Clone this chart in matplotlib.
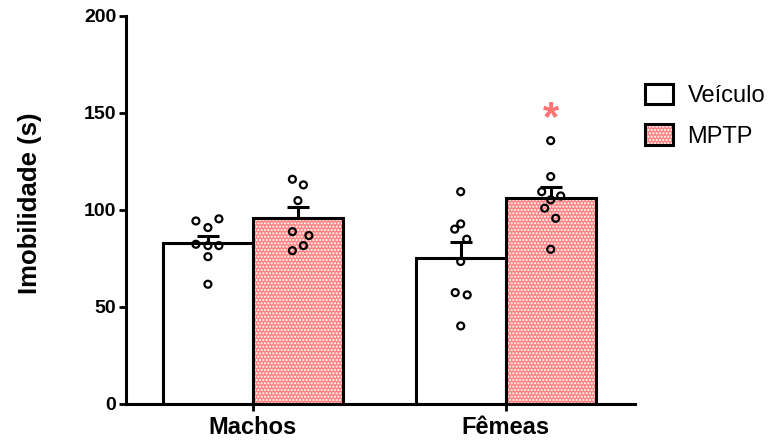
import matplotlib
matplotlib.use('Agg')
import matplotlib.pyplot as plt
import numpy as np
from matplotlib.patches import Patch
from matplotlib.legend_handler import HandlerTuple

plt.rcParams['font.family'] = ['Liberation Sans', 'DejaVu Sans']
plt.rcParams['hatch.linewidth'] = 1.0

# ---- data ----
groups = ['Machos', 'Fêmeas']
treatments = ['Veículo', 'MPTP']
veh_mean = [83.1, 75.4]
veh_sem = [3.7, 7.9]
mptp_mean = [95.7, 106.3]
mptp_sem = [5.7, 5.7]
veh_machos_pts = [94.3, 95.4, 90.9, 82.3, 81.6, 81.6, 75.9, 61.7]
mptp_machos_pts = [115.8, 112.9, 104.8, 88.8, 86.8, 81.6, 79.0]
veh_femeas_pts = [109.4, 90.1, 92.8, 84.9, 73.4, 57.4, 56.2, 40.2]
mptp_femeas_pts = [135.7, 117.2, 109.4, 107.2, 105.2, 100.9, 95.7, 79.7]
yticks = [0, 50, 100, 150, 200]

# horizontal scatter offsets of the dots (pixels, layout only)
veh_machos_dx = [-12, 11, 0, -12, 0, 11, 0, 0]
mptp_machos_dx = [-5.5, 5.5, 0, -5.5, 11, 5.5, -5.5]
veh_femeas_dx = [0, -6, 0, 6, 0, -5.5, 6.5, 0]
mptp_femeas_dx = [0, 0, -9, 10, 0, -6, 5, 0]

# ---- figure ----
fig = plt.figure(figsize=(7.73, 4.41), dpi=100)
ax = fig.add_axes([0.163, 0.084, 0.658, 0.88])

x = np.arange(len(groups))
w = 0.356
pink = '#ff8484'
lw = 2.2
px2data = 1 / 253.0
hatch = '.....'

ax.bar(x - w / 2, veh_mean, w, color='white', edgecolor='black', linewidth=lw, zorder=2)
ax.bar(x + w / 2, mptp_mean, w, color=pink, edgecolor='white', linewidth=0,
       hatch=hatch, zorder=2)
ax.bar(x + w / 2, mptp_mean, w, fill=False, edgecolor='black', linewidth=lw, zorder=2.1)

zeros = np.zeros(len(groups))
ax.errorbar(x - w / 2, veh_mean, yerr=[zeros, veh_sem], fmt='none', ecolor='black',
            elinewidth=lw, capsize=8, capthick=lw, zorder=3)
ax.errorbar(x + w / 2, mptp_mean, yerr=[zeros, mptp_sem], fmt='none', ecolor='black',
            elinewidth=lw, capsize=8, capthick=lw, zorder=3)

sets = [
    (x[0] - w / 2, veh_machos_pts, veh_machos_dx),
    (x[0] + w / 2, mptp_machos_pts, mptp_machos_dx),
    (x[1] - w / 2, veh_femeas_pts, veh_femeas_dx),
    (x[1] + w / 2, mptp_femeas_pts, mptp_femeas_dx),
]
for cx, pts, dx in sets:
    xs = cx + np.array(dx) * px2data
    ax.scatter(xs, pts, s=25, facecolors='none', edgecolors='black',
               linewidths=1.6, zorder=4, clip_on=False)

ax.text(x[1] + w / 2, 141, '*', ha='center', va='baseline', fontsize=30,
        color='#ff7373', fontweight='bold')

ax.set_xlim(-0.502, 1.51)
ax.set_ylim(0, 200)
ax.set_yticks(yticks)
ax.set_xticks(x)
ax.set_xticklabels(groups, fontsize=17, fontweight='bold')
for lab in ax.get_yticklabels():
    lab.set_fontweight('bold')
ax.tick_params(axis='y', length=5, width=2, labelsize=14, pad=2)
ax.tick_params(axis='x', length=5, width=2, labelsize=17, pad=4)
for s in ['top', 'right']:
    ax.spines[s].set_visible(False)
for s in ['left', 'bottom']:
    ax.spines[s].set_linewidth(lw)
ax.set_ylabel('Imobilidade (s)', fontsize=18.5, fontweight='bold')
ax.yaxis.set_label_coords(-0.165, 0.518)

h_veh = Patch(facecolor='white', edgecolor='black', linewidth=lw)
h_mptp_fill = Patch(facecolor=pink, edgecolor='white', hatch=hatch, linewidth=0)
h_mptp_edge = Patch(fill=False, edgecolor='black', linewidth=lw)
fig.legend([(h_veh,), (h_mptp_fill, h_mptp_edge)], treatments,
           handler_map={tuple: HandlerTuple(ndivide=1, pad=0)},
           loc='upper left', bbox_to_anchor=(645 / 773, 1 - 84 / 441),
           frameon=False, fontsize=17, handlelength=1.2, handleheight=0.95,
           labelspacing=0.72, handletextpad=0.6, borderpad=0, borderaxespad=0)

fig.savefig('out.png', dpi=100)
